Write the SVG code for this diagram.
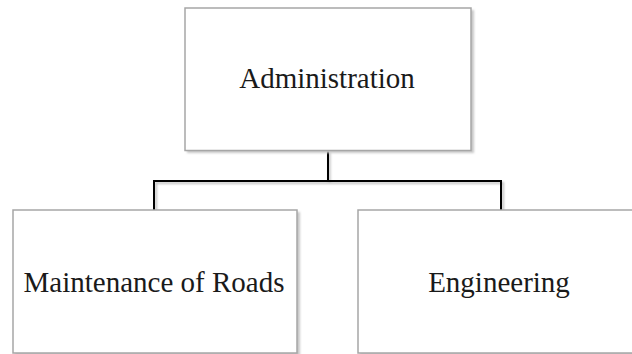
<svg xmlns="http://www.w3.org/2000/svg" width="632" height="354" viewBox="0 0 632 354">
<defs>
<style>
.box{fill:#ffffff;stroke:#a6a6a6;stroke-width:1.5}
.shadow{fill:#c8c8c8}
.lbl{font-family:"Liberation Serif","Times New Roman",serif;font-size:29px;fill:#1a1a1a;text-anchor:middle}
.conn{fill:none;stroke:#000000;stroke-width:2}
.connsh{fill:none;stroke:#bdbdbd;stroke-width:2}
</style>
<filter id="blur" x="-10%" y="-10%" width="120%" height="120%"><feGaussianBlur stdDeviation="1.2"/></filter>
</defs>
<rect width="632" height="354" fill="#ffffff"/>
<g id="connectors">
<path class="connsh" d="M329.5 152 V183 M156 212 V183 H503 V212" filter="url(#blur)"/>
<path class="conn" d="M328 151 V181 M154 210 V181 H501 V210"/>
</g>
<g id="node-administration">
<rect class="shadow" x="187" y="10" width="287" height="143" filter="url(#blur)"/>
<rect class="box" x="185" y="8" width="286" height="142.5"/>
<text class="lbl" x="327" y="88">Administration</text>
</g>
<g id="node-maintenance">
<rect class="shadow" x="15" y="212" width="285" height="144" filter="url(#blur)"/>
<rect class="box" x="13" y="210" width="284" height="143"/>
<text class="lbl" x="154" y="292">Maintenance of Roads</text>
</g>
<g id="node-engineering">
<rect class="shadow" x="360" y="212" width="285" height="144" filter="url(#blur)"/>
<rect class="box" x="358" y="210" width="284" height="143"/>
<text class="lbl" x="499" y="292">Engineering</text>
</g>
</svg>
